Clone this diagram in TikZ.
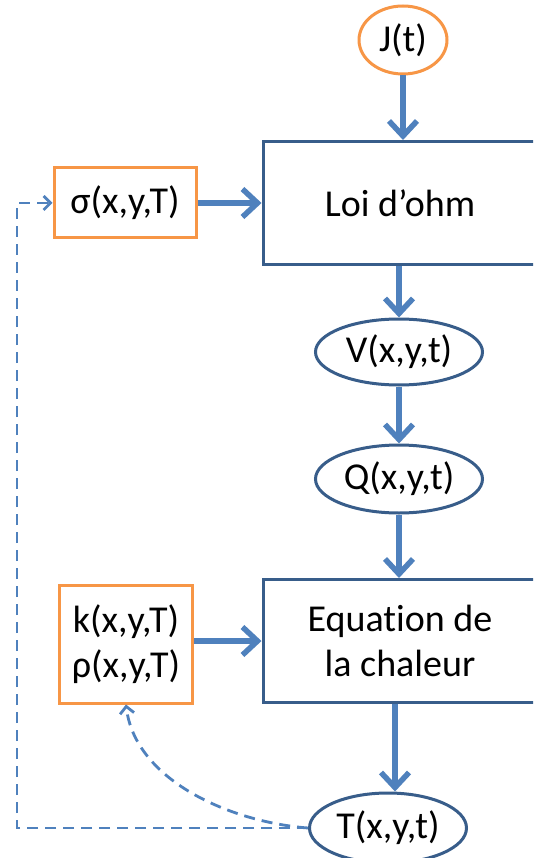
\documentclass[tikz,border=0pt]{standalone}
\usepackage{fontspec}
\setmainfont{Carlito}[Ligatures={TeX,NoCommon}]
\usetikzlibrary{positioning,arrows.meta,shapes.geometric}
\definecolor{FlowBlue}{RGB}{79,129,189}
\definecolor{EdgeBlue}{RGB}{56,93,138}
\definecolor{ParamOrange}{RGB}{247,150,70}

\begin{document}
\begin{tikzpicture}[x=1pt, y=-1pt,
    every node/.style={font=\fontsize{38}{45}\selectfont, text=black, align=center, inner sep=0pt},
    block/.style={rectangle, draw=EdgeBlue, line width=3pt, minimum width=274pt, minimum height=123pt},
    param/.style={rectangle, draw=ParamOrange, line width=3pt},
    field/.style={ellipse, draw=EdgeBlue, line width=3pt, minimum width=167pt, minimum height=66pt},
    source/.style={ellipse, draw=ParamOrange, line width=3pt, minimum width=88pt, minimum height=68pt},
    flow/.style={draw=FlowBlue, line width=5.5pt, -{Straight Barb[length=15pt,width=28pt]}},
    feedback/.style={draw=FlowBlue, line width=2.8pt, dash pattern=on 11pt off 7pt, -{Straight Barb[length=7pt,width=14pt]}}
]
\useasboundingbox (0,0) rectangle (533,858);
\fill[white] (0,0) rectangle (533,858);
\clip (0,0) rectangle (533,858);

\node[source] (J) at (403,40) {J(t)};
\node[block] (ohm) at (400,203) {Loi d’ohm};
\node[param, minimum width=142pt, minimum height=70pt] (sigma) at (125,203) {σ(x,y,T)};
\node[field] (V) at (399,352) {V(x,y,t)};
\node[field, minimum height=68pt] (Q) at (399,479) {Q(x,y,t)};
\node[block] (heat) at (400,641) {Equation de\\la chaleur};
\node[param, minimum width=133pt, minimum height=118pt] (krho) at (126,644) {k(x,y,T)\\ρ(x,y,T)};
\node[field, minimum width=157pt, minimum height=70pt] (T) at (388,828) {T(x,y,t)};

\draw[flow] (J) -- (J |- ohm.north);
\draw[flow] (ohm.south -| V) -- (V);
\draw[flow] (V) -- (Q);
\draw[flow] (Q) -- (Q |- heat.north);
\draw[flow] ([xshift=7pt]heat.south -| T) -- ([xshift=7pt]T.north);
\draw[flow] (sigma) -- (sigma -| ohm.west);
\draw[flow] (krho.east |- heat.west) -- (heat.west);

\coordinate (bottomleft) at (17,828);
\coordinate (topleft) at (17,203);
\draw[feedback] (T.west) -- (bottomleft) -- (topleft) -- (sigma.west);
\draw[feedback] (T.west) .. controls (230,822) and (135,780) .. (krho.south);
\end{tikzpicture}
\end{document}
